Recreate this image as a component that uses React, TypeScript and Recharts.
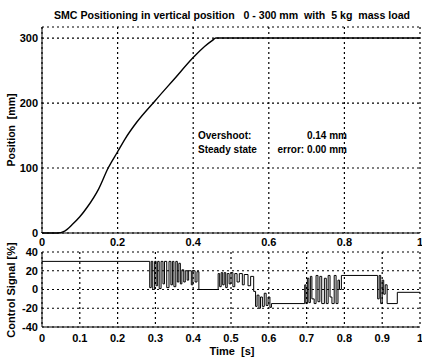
import { CartesianGrid, Line, LineChart, XAxis, YAxis } from "recharts";

// position response [mm]
const posTime = [0, 0.04, 0.06, 0.08, 0.1, 0.12, 0.15, 0.175, 0.2, 0.22, 0.25, 0.3, 0.35, 0.4, 0.43, 0.45, 0.46, 0.5, 0.6, 0.7, 0.8, 0.9, 1.0];
const posValue = [0, 0, 3, 13, 25, 40, 68, 100, 125, 145, 170, 204, 237, 270, 287, 296, 300, 300, 300, 300, 300, 300, 300];

// control signal [%], switching instants (held until next)
const ctrlTime = [
  0, 0.285, 0.289, 0.293, 0.298, 0.302, 0.306, 0.31, 0.315, 0.32, 0.324, 0.33, 0.336, 0.341, 0.345, 0.349,
  0.354, 0.358, 0.362, 0.366, 0.37, 0.375, 0.379, 0.384, 0.388, 0.395, 0.399, 0.405, 0.41, 0.415,
  0.466, 0.47, 0.474, 0.478, 0.482, 0.486, 0.49, 0.495, 0.5, 0.505, 0.51, 0.516, 0.522, 0.53, 0.535, 0.545,
  0.552, 0.56, 0.565, 0.569, 0.574, 0.578, 0.583, 0.588, 0.593, 0.598, 0.603, 0.607,
  0.695, 0.698, 0.702, 0.706, 0.71, 0.714, 0.72, 0.725, 0.73, 0.735, 0.74, 0.747, 0.752, 0.757, 0.762,
  0.767, 0.773, 0.778, 0.783, 0.787, 0.792, 0.888, 0.892, 0.896, 0.9, 0.904, 0.908, 0.913, 0.94, 1.0,
];
const ctrlValue = [
  30, 2, 30, 0, 30, 4, 30, 1, 30, 6, 30, 2, 30, 5, 30, 3,
  30, 8, 28, 6, 21, 8, 20, 10, 20, 5, 20, 8, 19, 0,
  17, 3, 18, 5, 18, 2, 17, 6, 18, 3, 17, 8, 17, 5, 16, 4,
  14, -2, -18, -6, -20, -8, -18, -4, -17, -8, -19, -15,
  5, -15, 12, -14, 14, -10, -15, 15, -13, 14, -15, 12, -15, 15, -8,
  -15, 15, -15, 10, 0, 15, -10, 15, -15, 10, -5, 5, -15, -3, -3,
];

const topXTicks = [0, 0.2, 0.4, 0.6, 0.8, 1];
const topYTicks = [0, 100, 200, 300];
const botXTicks = [0, 0.1, 0.2, 0.3, 0.4, 0.5, 0.6, 0.7, 0.8, 0.9, 1];
const botYTicks = [-40, -20, 0, 20, 40];

const posData = posTime.map((t, i) => ({ t, pos: posValue[i] }));
const ctrlData = ctrlTime.map((t, i) => ({ t, u: ctrlValue[i] }));

const font = "'Liberation Sans', Arial, sans-serif";
const tickStyle = { fill: "#000", fontSize: 11, fontWeight: "bold", fontFamily: font };
const gridProps = { stroke: "#000", strokeDasharray: "2 3", strokeWidth: 1.2 };

export default function App() {
  return (
    <div style={{ position: "absolute", left: 0, top: 0, width: 422, height: 358, background: "#fff" }}>
      <div style={{ position: "absolute", left: 0, top: 0 }}>
        <LineChart width={422} height={250} data={posData} margin={{ top: 27, right: 2, left: 0, bottom: 0 }}>
          <CartesianGrid {...gridProps} />
          <XAxis dataKey="t" type="number" domain={[0, 1]} ticks={topXTicks} tickLine={false} tickSize={0}
            tickMargin={5} height={17} axisLine={{ stroke: "#000" }} tick={tickStyle} interval={0} />
          <XAxis xAxisId="top" orientation="top" type="number" domain={[0, 1]} height={0} tick={false}
            tickLine={false} axisLine={{ stroke: "#000" }} />
          <YAxis type="number" domain={[0, 317]} ticks={topYTicks} tickLine={false} tickSize={0} tickMargin={4}
            width={42} axisLine={{ stroke: "#000" }} tick={tickStyle} interval={0} />
          <YAxis yAxisId="right" orientation="right" width={0} tick={false} tickLine={false}
            axisLine={{ stroke: "#000" }} />
          <Line type="monotone" dataKey="pos" stroke="#000" strokeWidth={1.4} dot={false} isAnimationActive={false} />
        </LineChart>
      </div>
      <div style={{ position: "absolute", left: 0, top: 240 }}>
        <LineChart width={422} height={118} data={ctrlData} margin={{ top: 12, right: 2, left: 0, bottom: 0 }}>
          <CartesianGrid {...gridProps} />
          <XAxis dataKey="t" type="number" domain={[0, 1]} ticks={botXTicks} tickLine={false} tickSize={0}
            tickMargin={7} height={31} axisLine={{ stroke: "#000" }} tick={tickStyle} interval={0} />
          <XAxis xAxisId="top" orientation="top" type="number" domain={[0, 1]} height={0} tick={false}
            tickLine={false} axisLine={{ stroke: "#000" }} />
          <YAxis type="number" domain={[-40, 40]} ticks={botYTicks} tickLine={false} tickSize={0} tickMargin={4}
            width={42} axisLine={{ stroke: "#000" }} tick={tickStyle} interval={0} />
          <YAxis yAxisId="right" orientation="right" width={0} tick={false} tickLine={false}
            axisLine={{ stroke: "#000" }} />
          <Line type="stepAfter" dataKey="u" stroke="#000" strokeWidth={1} dot={false} isAnimationActive={false} />
        </LineChart>
      </div>
      <svg width={422} height={358} style={{ position: "absolute", left: 0, top: 0, pointerEvents: "none" }}
        fontFamily={font} fontWeight="bold" fill="#000">
        <text x={232} y={19} fontSize={10.6} textAnchor="middle" xmlSpace="preserve" style={{ whiteSpace: "pre" }}>
          {"SMC Positioning in vertical position   0 - 300 mm  with  5 kg  mass load"}
        </text>
        <text x={198} y={139} fontSize={10}>Overshoot:</text>
        <text x={347} y={139} fontSize={10} textAnchor="end">0.14 mm</text>
        <text x={198} y={153} fontSize={10}>Steady state</text>
        <text x={347} y={153} fontSize={10} textAnchor="end">error: 0.00 mm</text>
        <text x={232} y={355} fontSize={11} textAnchor="middle" xmlSpace="preserve" style={{ whiteSpace: "pre" }}>
          {"Time  [s]"}
        </text>
        <text transform="translate(15,130) rotate(-90)" fontSize={10.5} textAnchor="middle" xmlSpace="preserve"
          style={{ whiteSpace: "pre" }}>
          {"Position  [mm]"}
        </text>
        <text transform="translate(15,290) rotate(-90)" fontSize={11} textAnchor="middle">
          Control Signal [%]
        </text>
      </svg>
    </div>
  );
}
